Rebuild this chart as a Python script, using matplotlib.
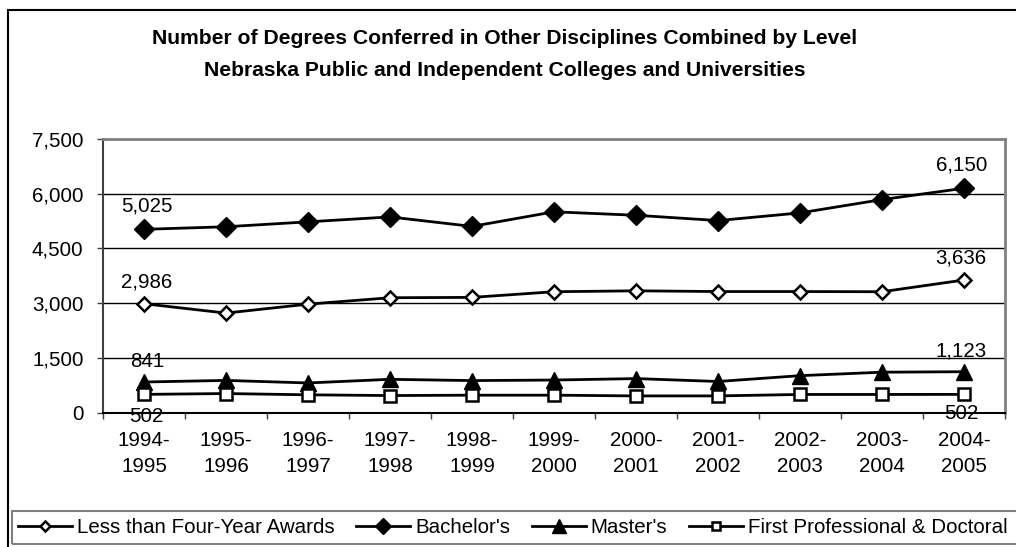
import matplotlib
matplotlib.use("Agg")
import matplotlib.pyplot as plt
from matplotlib.patches import Rectangle
from matplotlib.ticker import FuncFormatter, FixedLocator

years = ["1994-\n1995", "1995-\n1996", "1996-\n1997", "1997-\n1998", "1998-\n1999",
         "1999-\n2000", "2000-\n2001", "2001-\n2002", "2002-\n2003", "2003-\n2004",
         "2004-\n2005"]
less_than_four = [2986, 2730, 2975, 3150, 3160, 3315, 3340, 3320, 3320, 3315, 3636]
bachelors = [5025, 5095, 5230, 5365, 5105, 5505, 5410, 5265, 5475, 5840, 6150]
masters = [841, 885, 815, 915, 880, 895, 935, 855, 1015, 1110, 1123]
first_prof = [502, 525, 490, 470, 480, 480, 460, 460, 500, 500, 502]
y_ticks = [0, 1500, 3000, 4500, 6000, 7500]

plt.rcParams['font.family'] = ['Liberation Sans', 'DejaVu Sans']

W, H = 1016, 547
fig = plt.figure(figsize=(W / 100, H / 100), dpi=100)

def fx(px):
    return px / W

def fy(py):
    return 1 - py / H

ax = fig.add_axes([fx(103), fy(412.7), fx(1005) - fx(103), fy(139) - fy(412.7)])

x = list(range(len(years)))
lw = 2.0
h1, = ax.plot(x, less_than_four, color='black', lw=lw, marker='D', ms=7,
              mfc='white', mec='black', mew=1.8, label='Less than Four-Year Awards', zorder=3)
h2, = ax.plot(x, bachelors, color='black', lw=lw, marker='D', ms=10,
              mfc='black', mec='black', label="Bachelor's", zorder=3)
h3, = ax.plot(x, masters, color='black', lw=lw, marker='^', ms=12,
              mfc='black', mec='black', label="Master's", zorder=3)
h4, = ax.plot(x, first_prof, color='black', lw=lw, marker='s', ms=8,
              mfc='white', mec='black', mew=1.8, label='First Professional & Doctoral', zorder=3)

fs = 14.8

def fmt(v):
    return f"{v:,.0f}"

ann = dict(ha='center', va='center', fontsize=fs, textcoords='offset points', zorder=4)
for series, dy in [(bachelors, 17), (less_than_four, 16), (masters, 15), (first_prof, -16)]:
    ax.annotate(fmt(series[0]), (x[0], series[0]), xytext=(2, dy), **ann)
    ax.annotate(fmt(series[-1]), (x[-1], series[-1]), xytext=(-2, dy if dy > 0 else -14), **ann)

ax.set_xlim(-0.5, len(years) - 0.5)
ax.set_ylim(0, 7500)
ax.set_yticks(y_ticks)
ax.yaxis.set_major_formatter(FuncFormatter(lambda v, p: f"{v:,.0f}"))
ax.grid(axis='y', color='black', lw=1.0, zorder=1)
ax.set_axisbelow(True)

ax.xaxis.set_major_locator(FixedLocator([i - 0.5 for i in range(len(years) + 1)]))
ax.xaxis.set_major_formatter(FuncFormatter(lambda v, p: ""))
ax.xaxis.set_minor_locator(FixedLocator(x))
ax.set_xticklabels(years, minor=True)
ax.tick_params(axis='x', which='major', direction='out', length=4.5, width=1, color='#404040')
ax.tick_params(axis='x', which='minor', length=0, pad=13, labelsize=fs)
for lab in ax.get_xticklabels(minor=True):
    lab.set_linespacing(1.5)
ax.tick_params(axis='y', direction='out', length=4.5, width=1, color='#404040', labelsize=fs, pad=9.5)

for side in ['top', 'right']:
    ax.spines[side].set_color('#808080')
    ax.spines[side].set_linewidth(2)
ax.spines['left'].set_color('#404040')
ax.spines['left'].set_linewidth(1.5)
ax.spines['bottom'].set_color('black')
ax.spines['bottom'].set_linewidth(1.5)

fig.text(fx(504.5), fy(39), "Number of Degrees Conferred in Other Disciplines Combined by Level",
         ha='center', va='center', fontsize=15.2, fontweight='bold')
fig.text(fx(504.5), fy(70.5), "Nebraska Public and Independent Colleges and Universities",
         ha='center', va='center', fontsize=15.2, fontweight='bold')

# outer chart frame
fig.patches.append(Rectangle((fx(7.5), fy(552)), fx(1030) - fx(7.5), fy(9.5) - fy(552),
                             transform=fig.transFigure, fill=False, ec='black', lw=1.5))
# legend frame
fig.patches.append(Rectangle((fx(12), fy(544)), fx(1030) - fx(12), fy(510.7) - fy(544),
                             transform=fig.transFigure, fill=False, ec='#808080', lw=1.5))

leg = fig.legend(handles=[h1, h2, h3, h4], loc='center left', ncol=4,
                 bbox_to_anchor=(fx(18), fy(527.5)), frameon=False, fontsize=14.8,
                 handlelength=2.63, handletextpad=0.24, columnspacing=1.05,
                 borderpad=0, borderaxespad=0, markerscale=0.8)

fig.savefig("out.png", dpi=100)
